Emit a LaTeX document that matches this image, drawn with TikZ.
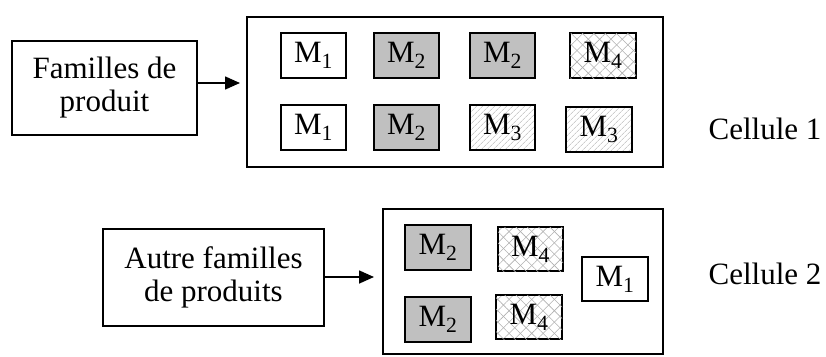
\documentclass[tikz,border=0pt]{standalone}
\usepackage{fontspec}
\setmainfont{Liberation Serif}
\usetikzlibrary{arrows.meta,patterns.meta}
\definecolor{mgray}{HTML}{C0C0C0}
\definecolor{hatch}{HTML}{B0B0B0}
\begin{document}
\begin{tikzpicture}[x=1pt,y=-1pt,
  every node/.style={font=\fontsize{31}{33}\selectfont},
  mbox/.style={draw,line width=2pt,minimum width=65pt,minimum height=45pt,inner sep=0pt},
  grayfill/.style={mbox,fill=mgray},
  linehatch/.style={mbox,pattern={Lines[angle=45,distance=4pt,line width=0.6pt]},pattern color=hatch},
  crosshatch/.style={mbox,pattern={Lines[angle=45,distance=8pt,line width=0.6pt]},pattern color=hatch,
     postaction={pattern={Lines[angle=-45,distance=8pt,line width=0.6pt]},pattern color=hatch}},
  bigbox/.style={draw,line width=2.2pt,inner sep=0pt},
  famb/.style={draw,line width=1.8pt,inner sep=0pt,align=center},
  arr/.style={line width=1.6pt,-{Triangle[length=15pt,width=13pt]}}
]
\useasboundingbox (0,0) rectangle (826,356);
% cell boxes
\node[bigbox,minimum width=416pt,minimum height=150pt] (c1) at (455,92) {};
\node[bigbox,minimum width=280pt,minimum height=145pt] (c2) at (523,281.5) {};
% cell 1 machines
\node[mbox] (a1) at (313.5,55.5) {M\textsubscript{1}};
\node[grayfill] (a2) at (406.5,55.5) {M\textsubscript{2}};
\node[grayfill] (a3) at (502.5,55.5) {M\textsubscript{2}};
\node[crosshatch,minimum width=66pt] (a4) at (603,55.5) {M\textsubscript{4}};
\node[mbox] (b1) at (313.5,127.5) {M\textsubscript{1}};
\node[grayfill] (b2) at (406.5,127.5) {M\textsubscript{2}};
\node[linehatch] (b3) at (502.5,127.5) {M\textsubscript{3}};
\node[linehatch,minimum width=66pt] (b4) at (599,129.5) {M\textsubscript{3}};
% cell 2 machines
\node[grayfill,minimum width=66pt] (d1) at (438,247.5) {M\textsubscript{2}};
\node[crosshatch,minimum height=44pt] (d2) at (530.5,249) {M\textsubscript{4}};
\node[mbox,minimum width=66pt,minimum height=44pt] (d3) at (615,279) {M\textsubscript{1}};
\node[grayfill,minimum width=66pt] (e1) at (438,319.5) {M\textsubscript{2}};
\node[crosshatch,minimum width=66pt,minimum height=44pt] (e2) at (529,317) {M\textsubscript{4}};
% family boxes
\node[famb,minimum width=185pt,minimum height=94pt] (fam) at (104.5,88) {Familles de\\produit};
\node[famb,minimum width=221pt,minimum height=97pt] (aut) at (213.5,277.5) {Autre familles\\de produits};
% labels
\node (l1) at (765,129) {Cellule 1};
\node (l2) at (765,274) {Cellule 2};
% arrows
\coordinate (t1) at (240,83);
\coordinate (t2) at (374,277);
\draw[arr] (fam.east |- t1) -- (t1);
\draw[arr] (aut.east |- t2) -- (t2);
\end{tikzpicture}
\end{document}
